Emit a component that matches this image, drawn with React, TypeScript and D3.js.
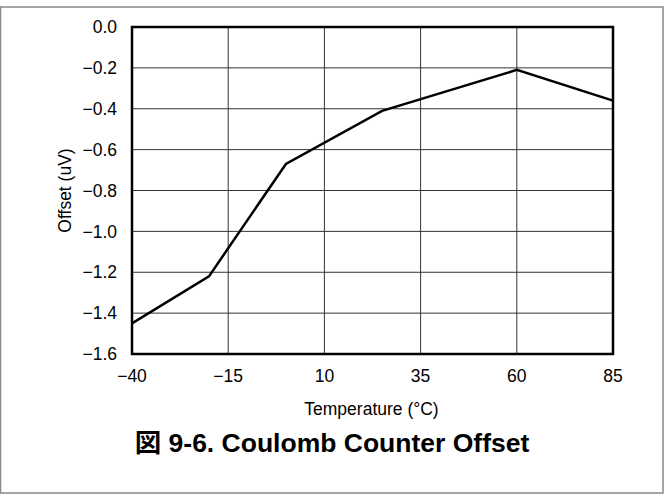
/*eslint-disable*/
import React, { useEffect, useRef } from 'react';
import * as d3 from 'd3';

// Offset vs temperature
const temps = [-40, -20, 0, 25, 60, 85];
const offsets = [-1.45, -1.22, -0.67, -0.41, -0.21, -0.36];

const xTicks = [-40, -15, 10, 35, 60, 85];
const yTicks = [0, -0.2, -0.4, -0.6, -0.8, -1.0, -1.2, -1.4, -1.6];

const App: React.FC = () => {
  const svgRef = useRef<SVGSVGElement>(null);

  useEffect(() => {
    const width = 664;
    const height = 495;
    const margin = { top: 27, right: 51, bottom: 141, left: 132 };
    const font = '"Liberation Sans", Arial, Helvetica, "Noto Sans CJK JP", sans-serif';

    const svg = d3.select(svgRef.current)
      .attr('width', width)
      .attr('height', height);
    svg.selectAll('*').remove();

    svg.append('rect')
      .attr('width', width).attr('height', height)
      .attr('fill', '#fff');

    // outer frame
    svg.append('rect')
      .attr('x', 0.5).attr('y', 7)
      .attr('width', width - 1.5).attr('height', height - 9)
      .attr('fill', 'none')
      .attr('stroke', '#888')
      .attr('stroke-width', 1.5);

    const x = d3.scaleLinear()
      .domain([-40, 85])
      .range([margin.left, width - margin.right]);

    const y = d3.scaleLinear()
      .domain([-1.6, 0])
      .range([height - margin.bottom, margin.top]);

    const fmtMinus = (s: string) => s.replace('-', '\u2013');

    // grid
    svg.append('g')
      .selectAll('line')
      .data(xTicks.slice(1, -1))
      .enter()
      .append('line')
      .attr('x1', d => x(d)).attr('x2', d => x(d))
      .attr('y1', y(0)).attr('y2', y(-1.6))
      .attr('stroke', '#333')
      .attr('stroke-width', 1);

    svg.append('g')
      .selectAll('line')
      .data(yTicks.slice(1, -1))
      .enter()
      .append('line')
      .attr('x1', x(-40)).attr('x2', x(85))
      .attr('y1', d => y(d)).attr('y2', d => y(d))
      .attr('stroke', '#333')
      .attr('stroke-width', 1);

    // plot frame
    svg.append('rect')
      .attr('x', x(-40)).attr('y', y(0))
      .attr('width', x(85) - x(-40)).attr('height', y(-1.6) - y(0))
      .attr('fill', 'none')
      .attr('stroke', '#000')
      .attr('stroke-width', 2.5);

    // tick labels
    svg.append('g')
      .selectAll('text')
      .data(xTicks)
      .enter()
      .append('text')
      .attr('x', d => x(d))
      .attr('y', y(-1.6) + 28)
      .attr('text-anchor', 'middle')
      .attr('font-family', font)
      .attr('font-size', 17.5)
      .text(d => fmtMinus(d3.format('d')(d)));

    svg.append('g')
      .selectAll('text')
      .data(yTicks)
      .enter()
      .append('text')
      .attr('x', x(-40) - 15)
      .attr('y', d => y(d))
      .attr('dy', '0.35em')
      .attr('text-anchor', 'end')
      .attr('font-family', font)
      .attr('font-size', 17.5)
      .text(d => fmtMinus(d3.format('.1f')(d)));

    // data line
    const line = d3.line<number>()
      .x((d, i) => x(temps[i]))
      .y(d => y(d));

    svg.append('path')
      .datum(offsets)
      .attr('d', line)
      .attr('fill', 'none')
      .attr('stroke', '#000')
      .attr('stroke-width', 2.5)
      .attr('stroke-linejoin', 'miter');

    // axis titles
    svg.append('text')
      .attr('x', (x(-40) + x(85)) / 2 - 1)
      .attr('y', 415)
      .attr('text-anchor', 'middle')
      .attr('font-family', font)
      .attr('font-size', 17.5)
      .text('Temperature (°C)');

    svg.append('text')
      .attr('transform', `translate(71, ${(y(0) + y(-1.6)) / 2}) rotate(-90)`)
      .attr('text-anchor', 'middle')
      .attr('font-family', font)
      .attr('font-size', 17.5)
      .text('Offset (uV)');

    svg.append('text')
      .attr('x', width / 2)
      .attr('y', 452)
      .attr('text-anchor', 'middle')
      .attr('font-family', font)
      .attr('font-weight', 'bold')
      .attr('font-size', 26.5)
      .text('図 9-6. Coulomb Counter Offset');
  }, []);

  return <svg ref={svgRef} style={{ position: 'absolute', left: 0, top: 0 }}></svg>;
};

export default App;
